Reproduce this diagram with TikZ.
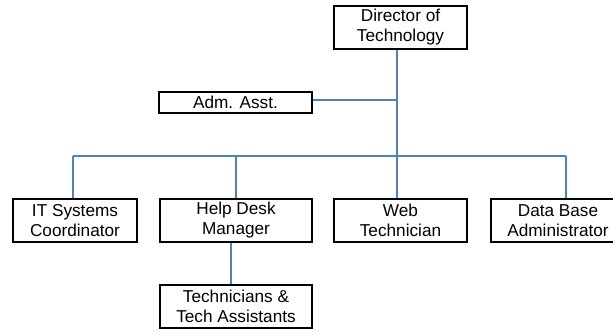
\documentclass[tikz,border=0pt]{standalone}
\usepackage{fontspec}
\setmainfont{Liberation Sans}
\usetikzlibrary{calc}
\definecolor{linkblue}{RGB}{79,129,189}
\begin{document}
\begin{tikzpicture}[x=1pt,y=-1pt,
  box/.style={draw=black,line width=2pt,fill=white,inner sep=0pt,align=center,
    minimum height=43pt,font=\fontsize{17.2}{20}\selectfont},
  link/.style={draw=linkblue,line width=1.1pt}]
\useasboundingbox (0,0) rectangle (613,334);
\clip (0,0) rectangle (613,334);
\coordinate (bl) at (73,156);
\coordinate (br) at (566,156);
\node[box,minimum width=133pt] (dir) at (400.5,27.5) {Director of\\Technology};
\node[box,minimum width=153pt,minimum height=21pt] (adm) at (235.5,102.5) {Adm. Asst.};
\node[box,minimum width=124pt] (it) at (75,220.5) {IT Systems\\Coordinator};
\node[box,minimum width=152pt] (help) at (236,220.5) {Help Desk\\Manager};
\node[box,minimum width=133pt] (web) at (400.5,220.5) {Web\\Technician};
\node[box,minimum width=134pt] (db) at (558,220.5) {Data Base\\Administrator};
\node[box,minimum width=152pt] (tech) at (236,306.5) {Technicians \&\\Tech Assistants};
\coordinate (ds) at ($(dir.south)+(-3.5,0)$);
\coordinate (wn) at ($(web.north)+(-3.5,0)$);
\coordinate (ae) at ($(adm.east)+(0,-2.5)$);
\coordinate (hs) at ($(help.south)+(-5,0)$);
\coordinate (tn) at ($(tech.north)+(-5,0)$);
\draw[link] (ds) -- (wn);
\draw[link] (ae) -- (ae -| ds);
\draw[link] (bl) -- (br);
\draw[link] (bl) -- (bl |- it.north);
\draw[link] (help.north |- bl) -- (help.north);
\draw[link] (br) -- (br |- db.north);
\draw[link] (hs) -- (tn);
\end{tikzpicture}
\end{document}
